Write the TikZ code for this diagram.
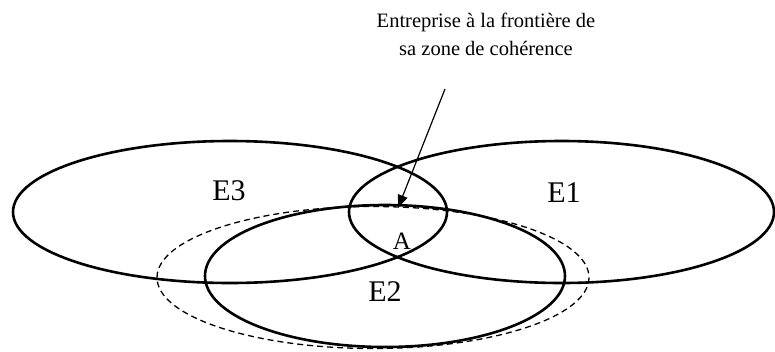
\documentclass[tikz,border=0pt]{standalone}
\usepackage{fontspec}
\setmainfont{Liberation Serif}
\usetikzlibrary{arrows.meta}
\begin{document}
\begin{tikzpicture}[x=1pt,y=-1pt,
  zone/.style={line width=2.6pt},
  zonedash/.style={line width=1.3pt,dash pattern=on 6pt off 4pt},
  lbl/.style={inner sep=0pt,anchor=base,font=\fontsize{30}{30}\selectfont},
  arr/.style={line width=1.2pt,-{Triangle[length=13pt,width=10pt]}}]
\useasboundingbox (0,0) rectangle (775,351);
% ellipses
\draw[zone] (230,212) ellipse [x radius=217, y radius=71];
\draw[zone] (561.5,212) ellipse [x radius=212.5, y radius=71];
\draw[zone] (385,276) ellipse [x radius=180, y radius=71];
\draw[zonedash] (373,277.5) ellipse [x radius=216, y radius=71];
% labels
\node[lbl] (e3) at (229,200) {E3};
\node[lbl] (e1) at (564,202) {E1};
\node[lbl] (e2) at (385,301) {E2};
\node[lbl,font=\fontsize{25}{25}\selectfont] (a) at (402,249) {A};
% title (base anchor = baseline of the last line)
\node[inner sep=0pt,anchor=base,align=center,
      font=\fontsize{20.5}{28.5}\selectfont] (title) at (486,55.5)
  {Entreprise à la frontière de\\sa zone de cohérence};
% arrow
\coordinate (from) at (445,89);
\coordinate (tip) at (398,208);
\draw[arr] (from) -- (tip);
\end{tikzpicture}
\end{document}
